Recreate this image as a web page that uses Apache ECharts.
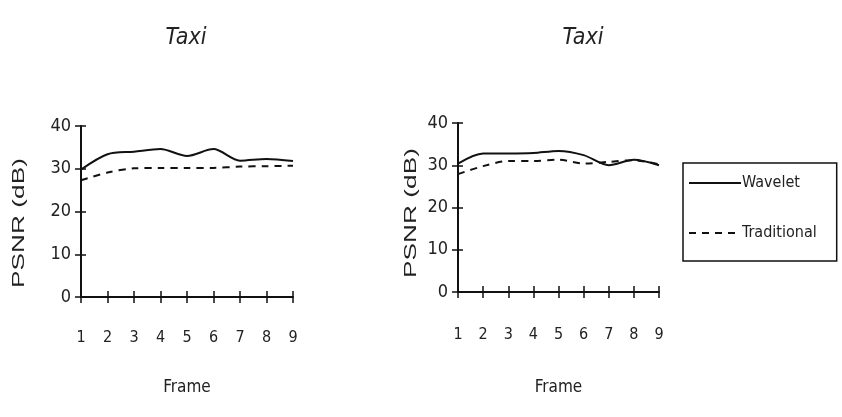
<!DOCTYPE html>
<html><head><meta charset="utf-8">
<script src="https://cdn.jsdelivr.net/npm/echarts@6/dist/echarts.min.js"></script>
<style>html,body{margin:0;padding:0;background:#fff}#c{width:842px;height:417px}</style>
</head><body><div id="c"></div>
<script>
const frames = ['1','2','3','4','5','6','7','8','9'];
const yTicks = [0,10,20,30,40];
const leftWavelet = [29.8,33.4,34.0,34.6,33.0,34.6,31.9,32.3,31.8];
const leftTraditional = [27.3,29.1,30.1,30.2,30.2,30.2,30.5,30.6,30.7];
const rightWavelet = [30.4,32.8,32.8,32.9,33.4,32.4,30.0,31.3,30.0];
const rightTraditional = [27.9,29.8,31.0,31.0,31.3,30.4,30.8,31.2,30.2];
const titles = ['Taxi','Taxi'];
const seriesNames = ['Wavelet','Traditional'];
const yName = 'PSNR (dB)';
const xName = 'Frame';

const NARROW = '"Liberation Sans Narrow","DejaVu Sans Condensed",sans-serif';
const grids = [
  {left:81, top:126, width:212, height:171},
  {left:458, top:123, width:201, height:169}
];
const xAxes = [], yAxes = [];
grids.forEach((g,i)=>{
  xAxes.push({type:'category', gridIndex:i, data:frames, boundaryGap:false, position:'bottom',
    axisLine:{lineStyle:{color:'#111',width:2}},
    axisTick:{inside:false,length:6,lineStyle:{color:'#111',width:1.5}},
    axisLabel:{color:'#222',fontFamily:NARROW,fontSize:16,margin:i===0?33:35},
    name:xName, nameLocation:'middle', nameGap:i===0?82:87,
    nameTextStyle:{color:'#222',fontFamily:NARROW,fontSize:17}});
  xAxes.push({type:'category', gridIndex:i, data:frames, boundaryGap:false, position:'bottom',
    axisLine:{show:false}, axisLabel:{show:false},
    axisTick:{inside:true,length:6,lineStyle:{color:'#111',width:1.5}}});
  yAxes.push({type:'value', gridIndex:i, min:0, max:40, interval:10, position:'left',
    splitLine:{show:false},
    axisLine:{show:true,lineStyle:{color:'#111',width:2}},
    axisTick:{show:true,inside:false,length:6,lineStyle:{color:'#111',width:1.5}},
    axisLabel:{color:'#222',fontFamily:NARROW,fontSize:18,margin:10}});
  yAxes.push({type:'value', gridIndex:i, min:0, max:40, interval:10, position:'left',
    splitLine:{show:false}, axisLine:{show:false}, axisLabel:{show:false},
    axisTick:{show:true,inside:true,length:5,lineStyle:{color:'#111',width:1.5}}});
});
function mk(name, data, gi, dashed){
  return {name:name, type:'line', xAxisIndex:gi*2, yAxisIndex:gi*2, data:data,
    symbol:'none', smooth:0.3,
    lineStyle:{color:'#111', width:2, type: dashed?[7,6]:'solid'},
    itemStyle:{color:'#111'}};
}
function yLabel(x, y){
  return {type:'text', x:x, y:y, rotation:Math.PI/2, scaleX:1.75, scaleY:1.05,
    style:{text:yName, fill:'#222', font:'15px "Liberation Sans", Arial, sans-serif',
      textAlign:'center', textVerticalAlign:'middle'}};
}
const chart = echarts.init(document.getElementById('c'));
chart.setOption({
  animation:false,
  backgroundColor:'#fff',
  title:[
    {text:titles[0], left:181, top:22, textAlign:'center',
     textStyle:{fontFamily:NARROW,fontStyle:'italic',fontWeight:'normal',fontSize:23,color:'#222'}},
    {text:titles[1], left:578, top:22, textAlign:'center',
     textStyle:{fontFamily:NARROW,fontStyle:'italic',fontWeight:'normal',fontSize:23,color:'#222'}}
  ],
  graphic:[yLabel(20,223), yLabel(412,213)],
  grid:grids,
  xAxis:xAxes, yAxis:yAxes,
  legend:{orient:'vertical', left:683, top:163,
    padding:[12,20,20,5], itemGap:34, itemWidth:52, itemHeight:10,
    borderColor:'#111', borderWidth:1.5,
    itemStyle:{opacity:0},
    data:[{name:seriesNames[0]},{name:seriesNames[1]}],
    textStyle:{fontFamily:NARROW,fontSize:16,color:'#222',padding:[0,0,0,-4]}},
  series:[
    mk(seriesNames[0], leftWavelet, 0, false),
    mk(seriesNames[1], leftTraditional, 0, true),
    mk(seriesNames[0], rightWavelet, 1, false),
    mk(seriesNames[1], rightTraditional, 1, true)
  ]
});
</script></body></html>
